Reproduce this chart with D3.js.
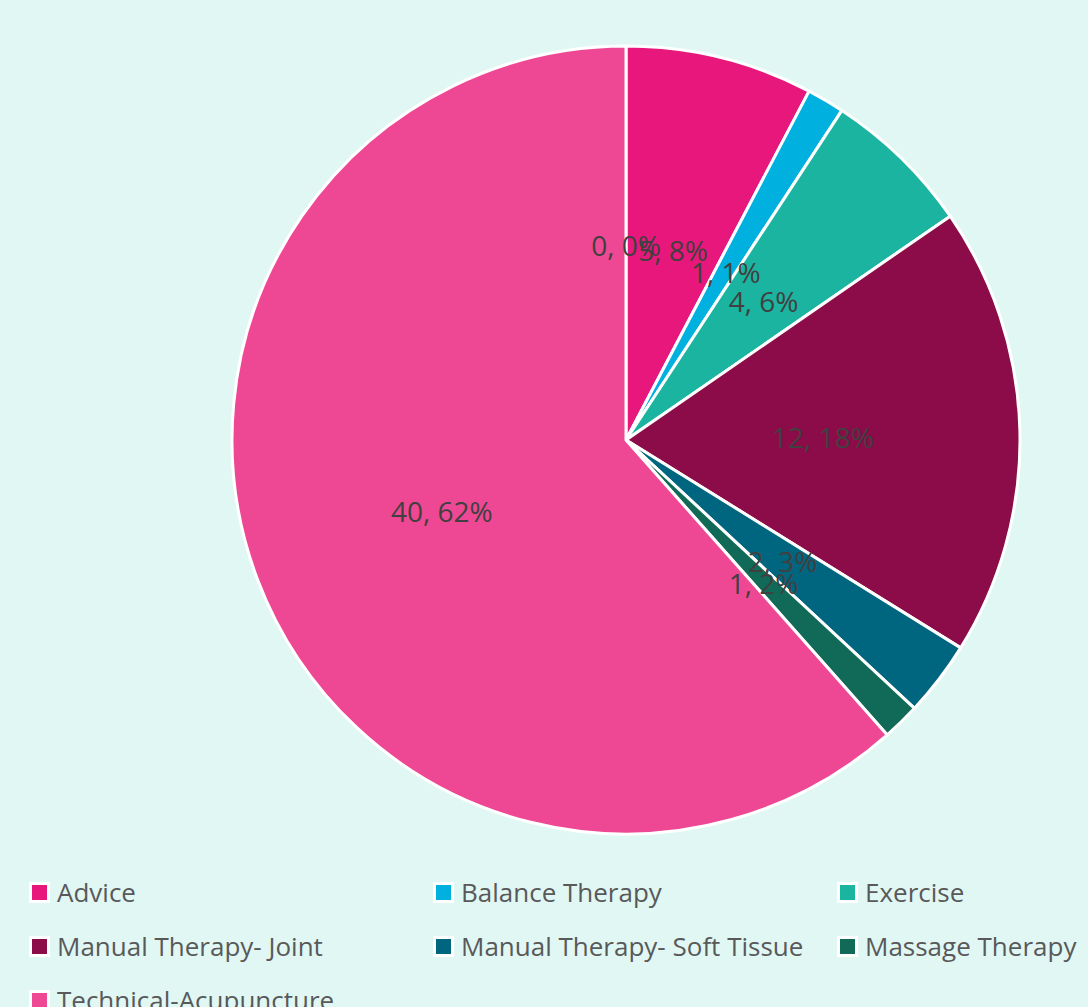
<!DOCTYPE html>
<html>
<head>
<meta charset="utf-8">
<script src="https://cdn.jsdelivr.net/npm/d3@7"></script>
<style>
html,body{margin:0;padding:0;background:#e0f7f4;}
svg{display:block;}
</style>
</head>
<body>
<script>
const categories = ["Advice","Balance Therapy","Exercise","Manual Therapy- Joint","Manual Therapy- Soft Tissue","Massage Therapy","Technical-Acupuncture",""];
const values = [5,1,4,12,2,1,40,0];
const percentLabels = ["8%","1%","6%","18%","3%","2%","62%","0%"];
const colors = ["#e8177b","#00b0de","#1bb4a0","#8b0c48","#006680","#116a58","#ee4895","#999999"];

const W = 1088, H = 1007;
const cx = 626, cy = 440, R = 394;

const svg = d3.select("body").append("svg").attr("width", W).attr("height", H);
svg.append("rect").attr("width", W).attr("height", H).attr("fill", "#e0f7f4");

const data = categories.map((c, i) => ({name: c, value: values[i], pct: percentLabels[i], color: colors[i]}));
const pie = d3.pie().value(d => d.value).sort(null);
const arcs = pie(data);
const arc = d3.arc().innerRadius(0).outerRadius(R);

const g = svg.append("g").attr("transform", `translate(${cx},${cy})`);
g.selectAll("path.slice").data(arcs.filter(d => d.data.value > 0)).join("path")
  .attr("class", "slice")
  .attr("d", arc)
  .attr("fill", d => d.data.color)
  .attr("stroke", "#ffffff")
  .attr("stroke-width", 3)
  .attr("stroke-linejoin", "round");

g.selectAll("text.lbl").data(arcs).join("text")
  .attr("class", "lbl")
  .attr("transform", d => {
    const a = d.data.value > 0 ? (d.startAngle + d.endAngle) / 2 : d.startAngle;
    const r = R * 0.5;
    return `translate(${r * Math.sin(a)},${-r * Math.cos(a)})`;
  })
  .attr("text-anchor", "middle")
  .attr("dy", "0.45em")
  .attr("font-family", "'Open Sans', sans-serif")
  .attr("font-size", 28)
  .attr("fill", "#404040")
  .text(d => `${d.data.value}, ${d.data.pct}`);

const legendItems = data.filter(d => d.name !== "");
const colX = [29, 433, 837];
const rowY = [892, 946, 1000];
const lg = svg.append("g");
const items = lg.selectAll("g.item").data(legendItems).join("g")
  .attr("class", "item")
  .attr("transform", (d, i) => `translate(${colX[i % 3]},${rowY[Math.floor(i / 3)]})`);
items.append("rect")
  .attr("x", 1.5).attr("y", -8.5).attr("width", 18).attr("height", 18)
  .attr("fill", d => d.color)
  .attr("stroke", "#ffffff").attr("stroke-width", 3);
items.append("text")
  .attr("x", 28).attr("y", 0).attr("dy", "0.38em")
  .attr("font-family", "'Open Sans', sans-serif")
  .attr("font-size", 26)
  .attr("fill", "#595959")
  .text(d => d.name);
</script>
</body>
</html>
